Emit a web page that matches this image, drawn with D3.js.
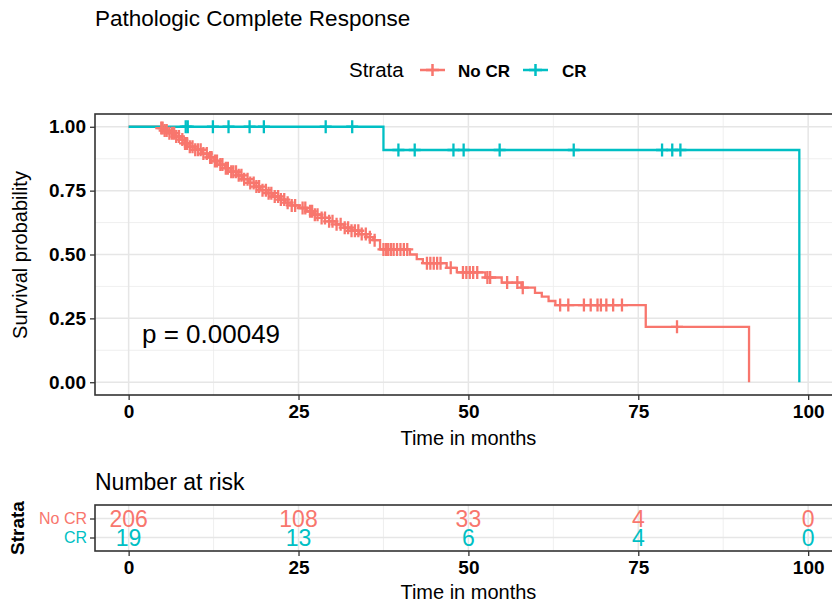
<!DOCTYPE html>
<html>
<head>
<meta charset="utf-8">
<script src="https://cdnjs.cloudflare.com/ajax/libs/d3/7.8.5/d3.min.js"></script>
<style>
  body { margin: 0; background: #fff; }
  svg { font-family: "Liberation Sans", Arial, sans-serif; }
</style>
</head>
<body>
<svg width="832" height="604"></svg>
<script>
// strata
var strata = ["No CR", "CR"];
var colors = ["#F8766D", "#00BFC4"];

// KM steps (time in months, survival)
var noCrTime = [0, 4.5, 5.2, 6.0, 6.8, 7.5, 8.2, 9.0, 9.8, 10.8, 11.8, 12.6, 13.4, 14.2, 15.0, 15.9, 16.8, 17.6, 18.5, 19.4, 20.3, 21.2, 22.1, 23.0, 24.0, 25.1, 26.2, 27.3, 28.4, 29.5, 30.6, 31.7, 32.8, 33.9, 35.0, 36.0, 37.0, 41.4, 42.4, 43.3, 46.8, 48.3, 52.5, 54.9, 57.8, 59.8, 60.8, 61.8, 62.8, 76.1, 91.3];
var noCrSurv = [1.00, 0.995, 0.985, 0.975, 0.962, 0.950, 0.935, 0.922, 0.910, 0.895, 0.880, 0.866, 0.852, 0.838, 0.824, 0.810, 0.795, 0.780, 0.766, 0.752, 0.740, 0.727, 0.715, 0.703, 0.692, 0.682, 0.669, 0.656, 0.643, 0.630, 0.618, 0.605, 0.593, 0.580, 0.568, 0.556, 0.520, 0.500, 0.482, 0.466, 0.448, 0.430, 0.410, 0.390, 0.370, 0.350, 0.335, 0.318, 0.302, 0.217, 0];
var noCrCensor = [4.8, 5.0, 5.3, 5.6, 6.0, 6.4, 6.7, 7.0, 7.4, 7.9, 8.3, 8.6, 9.0, 9.4, 9.8, 10.2, 10.6, 11.0, 11.5, 12.0, 12.2, 12.7, 13.0, 13.5, 13.8, 14.3, 14.6, 15.1, 15.4, 15.8, 16.2, 16.6, 17.0, 17.5, 17.9, 18.4, 18.8, 19.2, 19.7, 20.2, 20.6, 21.0, 21.5, 22.0, 22.4, 22.9, 23.4, 24.0, 24.5,
  25.6, 26.0, 26.7, 27.0, 27.4, 27.8, 28.4, 28.9, 29.5, 30.0, 30.6, 31.2, 31.8, 32.3, 32.8, 33.3, 33.8, 34.3, 34.9, 35.5, 36.2,
  37.5, 37.9, 38.2, 38.6, 39.0, 39.5, 40.0, 40.5, 41.0, 43.9, 44.4, 44.9, 45.4, 45.9, 47.4, 49.2, 49.7, 50.2, 50.7,
  51.3, 52.8, 53.2, 55.7, 57.2, 58.0, 63.5, 64.7, 67.0, 68.0, 69.0, 69.5, 70.3, 71.3, 72.6, 80.7];

var crTime = [0, 37.5, 98.7];
var crSurv = [1.00, 0.909, 0];
var crCensor = [8.4, 8.7, 12.4, 14.7, 17.8, 19.9, 29.0, 32.9, 39.7, 42.1, 47.8, 49.3, 54.6, 65.5, 78.5, 80.0, 81.2];

// number at risk
var riskTimes = [0, 25, 50, 75, 100];
var riskNoCr = [206, 108, 33, 4, 0];
var riskCr = [19, 13, 6, 4, 0];

var xTicks = [0, 25, 50, 75, 100];
var yTicks = [0, 0.25, 0.5, 0.75, 1];

var svg = d3.select("svg");
var left = 95, right = 835;

var x = d3.scaleLinear().domain([-4.95, 103.95]).range([left, right]);
var y = d3.scaleLinear().domain([-0.05, 1.05]).range([395, 114]);

// title
svg.append("text").attr("x", 95).attr("y", 26)
  .style("font-size", "22.5px").text("Pathologic Complete Response");

// legend
var leg = svg.append("g").attr("transform", "translate(349,70)");
leg.append("text").attr("x", 0).attr("y", 7).style("font-size", "20.5px").text("Strata");
var legX = [[71, 109], [174, 213]];
strata.forEach(function(s, i) {
  var g = leg.append("g").attr("transform", "translate(" + legX[i][0] + ",0)");
  g.append("line").attr("x1", 0).attr("x2", 25).attr("stroke", colors[i]).attr("stroke-width", 2.5);
  g.append("path").attr("d", "M12.5,-6V6M6,0H19").attr("stroke", colors[i]).attr("stroke-width", 2.5);
  leg.append("text").attr("x", legX[i][1]).attr("y", 7)
    .style("font-size", "17px").style("font-weight", "bold").text(s);
});

// main panel grid
var panel = svg.append("g");
function grid(g, xs, ys, top, bottom, xMinor, yMinor) {
  xMinor.forEach(function(v) {
    g.append("line").attr("x1", xs(v)).attr("x2", xs(v)).attr("y1", top).attr("y2", bottom)
      .attr("stroke", "#ebebeb").attr("stroke-width", 0.8);
  });
  yMinor.forEach(function(v) {
    g.append("line").attr("x1", left).attr("x2", right).attr("y1", ys(v)).attr("y2", ys(v))
      .attr("stroke", "#ebebeb").attr("stroke-width", 0.8);
  });
}
grid(panel, x, y, 114, 395, [12.5, 37.5, 62.5, 87.5], [0.125, 0.375, 0.625, 0.875]);
xTicks.forEach(function(v) {
  panel.append("line").attr("x1", x(v)).attr("x2", x(v)).attr("y1", 114).attr("y2", 395)
    .attr("stroke", "#e6e6e6").attr("stroke-width", 1.5);
});
yTicks.forEach(function(v) {
  panel.append("line").attr("x1", left).attr("x2", right).attr("y1", y(v)).attr("y2", y(v))
    .attr("stroke", "#e6e6e6").attr("stroke-width", 1.5);
});

// curves
var line = d3.line().curve(d3.curveStepAfter)
  .x(function(d) { return x(d[0]); })
  .y(function(d) { return y(d[1]); });

var series = [
  {time: noCrTime, surv: noCrSurv, censor: noCrCensor, color: colors[0]},
  {time: crTime, surv: crSurv, censor: crCensor, color: colors[1]}
];
var bis = d3.bisector(function(d) { return d; }).right;
series.forEach(function(s) {
  var pts = s.time.map(function(t, i) { return [t, s.surv[i]]; });
  panel.append("path").attr("d", line(pts)).attr("fill", "none")
    .attr("stroke", s.color).attr("stroke-width", 2.3);
});
series.forEach(function(s) {
  s.censor.forEach(function(t) {
    var v = s.surv[bis(s.time, t) - 1];
    var cx = x(t), cy = y(v);
    panel.append("path")
      .attr("d", "M" + cx + "," + (cy - 6.5) + "V" + (cy + 6.5) + "M" + (cx - 6) + "," + cy + "H" + (cx + 6))
      .attr("stroke", s.color).attr("stroke-width", 2.3).attr("fill", "none");
  });
});

// panel border + axes
panel.append("rect").attr("x", left).attr("y", 114).attr("width", right - left).attr("height", 281)
  .attr("fill", "none").attr("stroke", "#333").attr("stroke-width", 1.6);

var xAxis = svg.append("g").attr("transform", "translate(0,395)")
  .call(d3.axisBottom(x).tickValues(xTicks).tickSize(5).tickPadding(5));
var yAxis = svg.append("g").attr("transform", "translate(" + left + ",0)")
  .call(d3.axisLeft(y).tickValues(yTicks).tickFormat(d3.format(".2f")).tickSize(5).tickPadding(4));
[xAxis, yAxis].forEach(function(a) {
  a.select(".domain").remove();
  a.selectAll("line").attr("stroke", "#333").attr("stroke-width", 1.3);
  a.selectAll("text").style("font-size", "19px").style("font-weight", "bold")
    .style("font-family", "Liberation Sans, Arial, sans-serif").attr("fill", "#000");
});

svg.append("text").attr("x", x(50)).attr("y", 445).attr("text-anchor", "middle")
  .style("font-size", "20px").text("Time in months");
svg.append("text").attr("transform", "translate(27,255) rotate(-90)").attr("text-anchor", "middle")
  .style("font-size", "20px").text("Survival probability");

svg.append("text").attr("x", 142).attr("y", 343).style("font-size", "26px").text("p = 0.00049");

// risk table
svg.append("text").attr("x", 95).attr("y", 490).style("font-size", "23px").text("Number at risk");

var ry = d3.scalePoint().domain(strata).range([518.5, 537.5]);
var table = svg.append("g");
[12.5, 37.5, 62.5, 87.5].forEach(function(v) {
  table.append("line").attr("x1", x(v)).attr("x2", x(v)).attr("y1", 505).attr("y2", 551)
    .attr("stroke", "#ebebeb").attr("stroke-width", 0.8);
});
xTicks.forEach(function(v) {
  table.append("line").attr("x1", x(v)).attr("x2", x(v)).attr("y1", 505).attr("y2", 551)
    .attr("stroke", "#e6e6e6").attr("stroke-width", 1.5);
});
strata.forEach(function(s) {
  table.append("line").attr("x1", left).attr("x2", right).attr("y1", ry(s)).attr("y2", ry(s))
    .attr("stroke", "#e6e6e6").attr("stroke-width", 1.5);
});
var riskRows = [riskNoCr, riskCr];
riskRows.forEach(function(row, i) {
  row.forEach(function(n, j) {
    table.append("text").attr("x", x(riskTimes[j])).attr("y", ry(strata[i]) + 8)
      .attr("text-anchor", "middle").attr("fill", colors[i]).style("font-size", "23px").text(n);
  });
});
table.append("rect").attr("x", left).attr("y", 505).attr("width", right - left).attr("height", 46)
  .attr("fill", "none").attr("stroke", "#333").attr("stroke-width", 1.6);

var tx = svg.append("g").attr("transform", "translate(0,551)")
  .call(d3.axisBottom(x).tickValues(xTicks).tickSize(5).tickPadding(5));
var ty = svg.append("g").attr("transform", "translate(" + left + ",0)")
  .call(d3.axisLeft(ry).tickSize(5).tickPadding(3));
[tx, ty].forEach(function(a) {
  a.select(".domain").remove();
  a.selectAll("line").attr("stroke", "#333").attr("stroke-width", 1.3);
  a.selectAll("text").style("font-family", "Liberation Sans, Arial, sans-serif").attr("fill", "#000");
});
tx.selectAll("text").style("font-size", "19px").style("font-weight", "bold");
ty.selectAll("text").style("font-size", "16px").attr("fill", function(d, i) { return colors[i]; });

svg.append("text").attr("x", x(50)).attr("y", 599).attr("text-anchor", "middle")
  .style("font-size", "20px").text("Time in months");
svg.append("text").attr("transform", "translate(24,528) rotate(-90)").attr("text-anchor", "middle")
  .style("font-size", "19px").style("font-weight", "bold").text("Strata");
</script>
</body>
</html>
